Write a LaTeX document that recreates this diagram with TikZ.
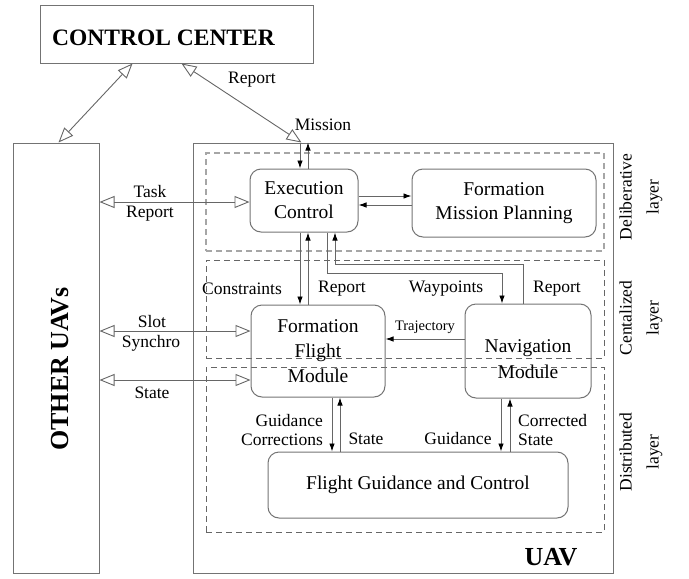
\documentclass[tikz,border=0pt]{standalone}
\usepackage{fontspec}
\setmainfont{Liberation Serif}
\usetikzlibrary{arrows.meta,calc}
\begin{document}
\begin{tikzpicture}[x=1pt,y=-1pt,
  box/.style={draw=black!55, line width=1pt, rounded corners=11pt, inner sep=0pt, align=center, font=\fontsize{19.5}{24}\selectfont},
  plainbox/.style={draw=black!55, line width=1pt, inner sep=0pt},
  layerbox/.style={draw=black!60, dash pattern=on 6pt off 4pt, line width=0.9pt, inner sep=0pt},
  lbl/.style={inner sep=0pt, align=center, font=\fontsize{17.5}{19.5}\selectfont},
  layerlbl/.style={inner sep=0pt, align=center, rotate=90, font=\fontsize{17.5}{27}\selectfont},
  fa/.style={draw=black!60, line width=0.9pt, -{Latex[length=8pt,width=5.5pt,color=black]}},
  oa/.style={draw=black!60, line width=0.9pt, {Triangle[open,length=15pt,width=12pt]}-{Triangle[open,length=15pt,width=12pt]}},
]
\useasboundingbox (0,0) rectangle (689,579);

% outer boxes
\node[plainbox, minimum width=273pt, minimum height=58pt] (cc) at (176.5,34) {};
\node[anchor=west, inner sep=0pt, font=\bfseries\fontsize{23.5}{26}\selectfont] (cctext) at (52,38) {CONTROL CENTER};
\node[plainbox, minimum width=86pt, minimum height=430pt] (ou) at (56,358) {};
\node[rotate=90, inner sep=0pt, font=\bfseries\fontsize{26}{28}\selectfont] (outext) at (60,369) {OTHER UAVs};
\node[plainbox, minimum width=420pt, minimum height=430pt] (uav) at (403,358) {};
\node[inner sep=0pt, font=\bfseries\fontsize{26}{28}\selectfont] (uavtext) at (551,557) {UAV};

% layers
\node[layerbox, draw=black!35, line width=1.3pt, minimum width=398pt, minimum height=98pt] (delib) at (405,202) {};
\node[layerbox, minimum width=398pt, minimum height=98pt] (central) at (405,309) {};
\node[layerbox, minimum width=398pt, minimum height=165pt] (distrib) at (405,449.5) {};
\node[layerlbl] (ldelib) at (641,197) {Deliberative\\layer};
\node[layerlbl] (lcentral) at (641,318) {Centalized\\layer};
\node[layerlbl] (ldistrib) at (641,452) {Distributed\\layer};

% modules
\node[box, minimum width=108pt, minimum height=63pt] (exec) at (304,200.5) {Execution\\Control};
\node[box, minimum width=184pt, minimum height=68pt] (fmp) at (504,203) {Formation\\Mission Planning};
\node[box, minimum width=134pt, minimum height=92pt, font=\fontsize{19.5}{25}\selectfont] (ffm) at (318,351) {Formation\\Flight\\Module};
\node[box, minimum width=126pt, minimum height=94pt] (nav) at (528,351) {};
\node[inner sep=0pt, align=center, font=\fontsize{19.5}{26}\selectfont] (navtext) at (528,359) {Navigation\\Module};
\node[box, minimum width=300pt, minimum height=66pt] (fgc) at (418,485) {Flight Guidance and Control};

% control center links
\draw[oa] ($(cc.south west)+(93,0)$) -- ($(ou.north west)+(46,0)$);
\draw[oa] ($(cc.south west)+(142,0)$) -- ($(uav.north west)+(109,0)$);
\node[lbl] at (252,80) {Report};
\node[lbl] at (323,125) {Mission};
\draw[fa] (300,0 |- uav.north) -- (300,0 |- exec.north);
\draw[fa] (308,0 |- exec.north) -- (308,0 |- uav.north);

% other UAV links
\draw[oa] (ou.east |- 0,202) -- (exec.west |- 0,202);
\node[lbl] at (150,192) {Task};
\node[lbl] at (150,214) {Report};
\draw[oa] (ou.east |- 0,331) -- (ffm.west |- 0,331);
\node[lbl] at (152,322) {Slot};
\node[lbl] at (151,343) {Synchro};
\draw[oa] (ou.east |- 0,380) -- (ffm.west |- 0,380);
\node[lbl] at (152,393) {State};

% exec <-> fmp
\draw[fa] (exec.east |- 0,196) -- (fmp.west |- 0,196);
\draw[fa] (fmp.west |- 0,205) -- (exec.east |- 0,205);

% exec <-> ffm
\draw[fa] (300,0 |- exec.south) -- (300,0 |- ffm.north);
\draw[fa] (308,0 |- ffm.north) -- (308,0 |- exec.south);
\node[lbl] at (242,289) {Constraints};
\node[lbl] at (342,289) {Report};

% exec <-> nav
\draw[fa] (327,0 |- exec.south) |- (502,273) -- (502,0 |- nav.north);
\draw[fa] (523,0 |- nav.north) |- (335,264) -- (335,0 |- exec.south);
\node[lbl] at (446,289) {Waypoints};
\node[lbl] at (557,289) {Report};

% trajectory
\draw[fa] (nav.west |- 0,339) -- (ffm.east |- 0,339);
\node[inner sep=0pt, font=\fontsize{14.5}{16}\selectfont] at (425,327) {Trajectory};

% ffm <-> fgc
\draw[fa] (332,0 |- ffm.south) -- (332,0 |- fgc.north);
\draw[fa] (340,0 |- fgc.north) -- (340,0 |- ffm.south);
\node[lbl, align=right, anchor=east] at (323,430) {Guidance\\Corrections};
\node[lbl] at (366,439) {State};

% nav <-> fgc
\draw[fa] (501,0 |- nav.south) -- (501,0 |- fgc.north);
\draw[fa] (510,0 |- fgc.north) -- (510,0 |- nav.south);
\node[lbl] at (458,439) {Guidance};
\node[lbl, align=left, anchor=west] at (518,430) {Corrected\\State};
\end{tikzpicture}
\end{document}
